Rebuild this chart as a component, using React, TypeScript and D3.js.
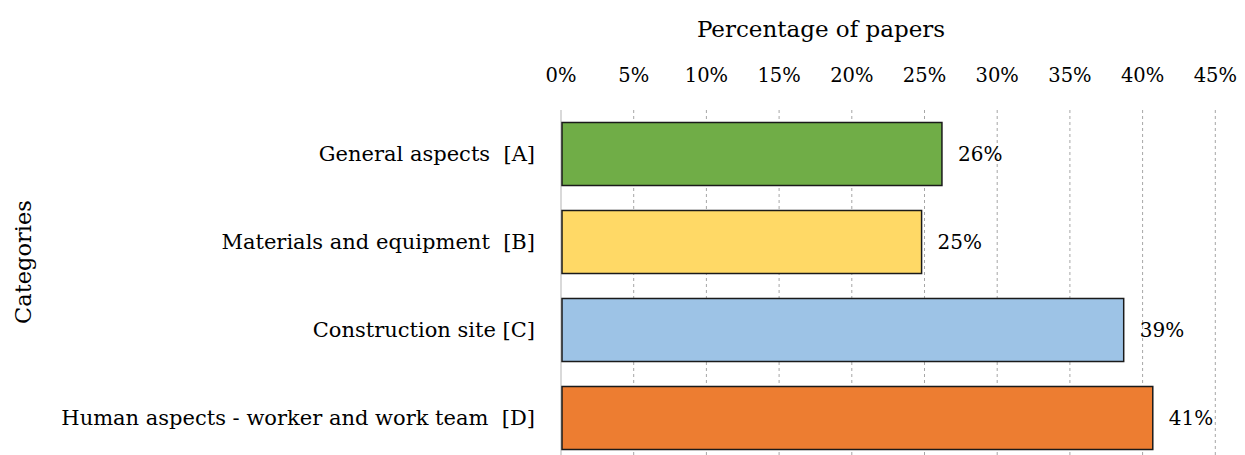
import React, { useEffect, useRef } from 'react';
import * as d3 from 'd3';

// Data
const categories = [
  'General aspects  [A]',
  'Materials and equipment  [B]',
  'Construction site [C]',
  'Human aspects - worker and work team  [D]'
];
const percentages = [26.2, 24.8, 38.7, 40.7];
const valueLabels = ['26%', '25%', '39%', '41%'];
const barColors = ['#70ad47', '#ffd966', '#9dc3e6', '#ed7d31'];
const xTicks = [0, 5, 10, 15, 20, 25, 30, 35, 40, 45];

const FONT = '"DejaVu Serif", serif';

export default function App() {
  const svgRef = useRef<SVGSVGElement>(null);

  useEffect(() => {
    if (!svgRef.current) return;
    const width = 1245;
    const height = 455;
    const margin = { top: 110, right: 30, bottom: -7, left: 561 };

    const svg = d3.select(svgRef.current);
    svg.selectAll('*').remove();
    svg.attr('width', width).attr('height', height);

    const x = d3.scaleLinear()
      .domain([0, 45])
      .range([margin.left, margin.left + 72.7 * 9]);

    const y = d3.scaleBand<string>()
      .domain(categories)
      .range([margin.top, height - margin.bottom])
      .paddingInner(0.284)
      .paddingOuter(0.142);

    // grid lines
    const grid = svg.append('g');
    grid.selectAll('line')
      .data(xTicks.filter(t => t > 0))
      .join('line')
      .attr('x1', d => x(d))
      .attr('x2', d => x(d))
      .attr('y1', margin.top)
      .attr('y2', height)
      .attr('stroke', '#a6a6a6')
      .attr('stroke-width', 1)
      .attr('stroke-dasharray', '3,3');

    // axis line at 0
    svg.append('line')
      .attr('x1', x(0)).attr('x2', x(0))
      .attr('y1', margin.top).attr('y2', height)
      .attr('stroke', '#d9d9d9')
      .attr('stroke-width', 2);

    // tick labels on top
    svg.append('g')
      .selectAll('text')
      .data(xTicks)
      .join('text')
      .attr('x', d => x(d))
      .attr('y', 82)
      .attr('text-anchor', 'middle')
      .style('font-family', FONT)
      .style('font-size', '19.5px')
      .attr('fill', '#000')
      .text(d => `${d}%`);

    // axis title
    svg.append('text')
      .attr('x', 821)
      .attr('y', 37)
      .attr('text-anchor', 'middle')
      .style('font-family', FONT)
      .style('font-size', '23px')
      .text('Percentage of papers');

    svg.append('text')
      .attr('transform', 'translate(31,262) rotate(-90)')
      .attr('text-anchor', 'middle')
      .style('font-family', FONT)
      .style('font-size', '22.5px')
      .text('Categories');

    // bars
    svg.append('g')
      .selectAll('rect')
      .data(categories)
      .join('rect')
      .attr('x', x(0) + 1)
      .attr('y', d => y(d)!)
      .attr('width', (d, i) => x(percentages[i]) - x(0) - 1)
      .attr('height', y.bandwidth())
      .attr('fill', (d, i) => barColors[i])
      .attr('stroke', '#1a1a1a')
      .attr('stroke-width', 1.5);

    // value labels
    svg.append('g')
      .selectAll('text')
      .data(categories)
      .join('text')
      .attr('x', (d, i) => x(percentages[i]) + 16)
      .attr('y', d => y(d)! + y.bandwidth() / 2 + 7)
      .style('font-family', FONT)
      .style('font-size', '20px')
      .text((d, i) => valueLabels[i]);

    // category labels
    svg.append('g')
      .selectAll('text')
      .data(categories)
      .join('text')
      .attr('x', 535)
      .attr('y', d => y(d)! + y.bandwidth() / 2 + 7)
      .attr('text-anchor', 'end')
      .style('font-family', FONT)
      .style('font-size', '21px')
      .style('white-space', 'pre')
      .text(d => d);
  }, []);

  return (
    <div style={{ position: 'absolute', left: 0, top: 0, background: '#fff' }}>
      <svg ref={svgRef} style={{ display: 'block' }} />
    </div>
  );
}
